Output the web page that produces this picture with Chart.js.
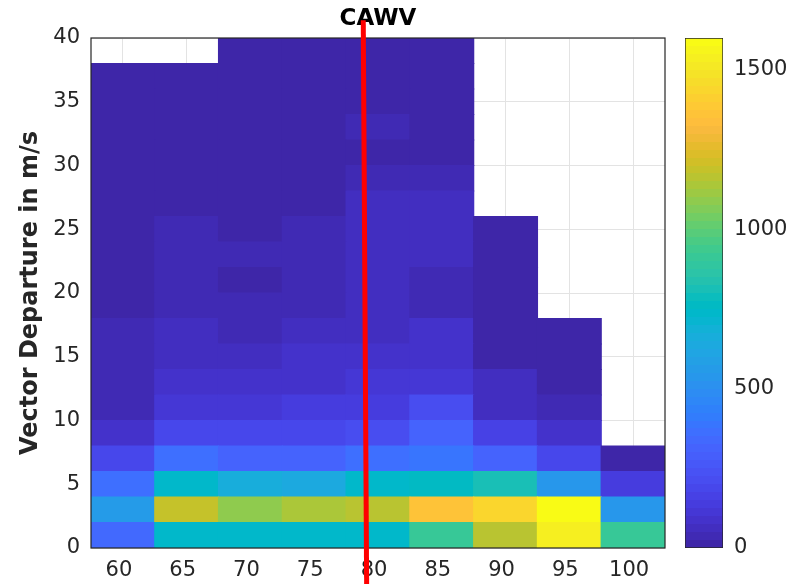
<!DOCTYPE html>
<html>
<head>
<title>CAWV</title>
<script src="https://cdn.jsdelivr.net/npm/chart.js"></script>
<style>
  body { margin: 0; background: #fff; }
  #wrap { position: relative; width: 795px; height: 584px; }
  #heat { position: absolute; left: 0; top: 0; }
  #cbar { position: absolute; left: 670px; top: 0; }
</style>
</head>
<body>
<div id="wrap">
  <canvas id="heat" width="795" height="584"></canvas>
  <canvas id="cbar" width="125" height="584"></canvas>
</div>
<script>
// speed bins (x) and vector departure bins (y, 2 m/s each)
const speeds = ['60', '65', '70', '75', '80', '85', '90', '95', '100'];
const depEdges = [0, 2, 4, 6, 8, 10, 12, 14, 16, 18, 20, 22, 24, 26, 28, 30, 32, 34, 36, 38, 40];
const yTicks = [0, 5, 10, 15, 20, 25, 30, 35, 40];
const cbarTicks = [0, 500, 1000, 1500];
const cbarMax = 1600;

// counts per speed column, bottom row (0-2 m/s) first; null = no data
const c60  = [337, 565, 355, 185, 95, 37, 37, 37, 37, 12, 12, 12, 12, 12, 12, 12, 12, 12, 12, null];
const c65  = [740, 1190, 725, 350, 190, 115, 90, 65, 65, 37, 37, 37, 37, 12, 12, 12, 12, 12, 12, null];
const c70  = [740, 1085, 665, 310, 190, 115, 90, 65, 37, 37, 12, 37, 12, 12, 12, 12, 12, 12, 12, 12];
const c75  = [745, 1140, 640, 305, 190, 125, 90, 90, 62, 37, 37, 37, 37, 12, 12, 12, 12, 12, 12, 12];
const c80  = [745, 1165, 725, 350, 215, 145, 120, 87, 62, 55, 55, 55, 55, 50, 30, 12, 37, 12, 12, 12];
const c85  = [915, 1365, 765, 385, 305, 200, 120, 87, 87, 45, 37, 55, 55, 55, 30, 12, 12, 12, 12, 12];
const c90  = [1170, 1440, 815, 315, 150, 62, 57, 12, 12, 12, 12, 12, 12, null, null, null, null, null, null, null];
const c95  = [1540, 1595, 540, 185, 85, 40, 15, 12, 12, null, null, null, null, null, null, null, null, null, null, null];
const c100 = [915, 540, 135, 12, null, null, null, null, null, null, null, null, null, null, null, null, null, null, null, null];
const counts = [c60, c65, c70, c75, c80, c85, c90, c95, c100];

// red marker line
const markX = [78.7, 79.0];
const markY = [41.4, -3];

const parula = ['#3e26a8','#402ab4','#422ec0','#4432cb','#4537d5','#463cde','#4741e5','#4747eb',
  '#484df0','#4852f4','#4758f8','#465efb','#4563fd','#4269fe','#3e6fff','#3875fe','#327cfc','#2f81fa',
  '#2e87f7','#2d8cf3','#2b91ef','#2797eb','#259be8','#23a0e5','#20a5e3','#1ca9df','#18addb','#12b1d6',
  '#08b5d0','#01b8ca','#02bac3','#0bbdbd','#19bfb6','#24c1ae','#2cc4a7','#31c69f','#37c897','#3fca8e',
  '#4acb84','#57cc7a','#64cd6f','#72cd64','#81cc59','#8fcb4e','#9dc943','#abc739','#b9c431','#c5c22a',
  '#d1bf27','#dcbd29','#e6bb2d','#f0ba36','#f8ba3d','#febe3c','#fec338','#fec934','#fccf30','#fad62d',
  '#f7dc2a','#f5e327','#f5e924','#f6ef20','#f7f51b','#f9fb15'];

function colorFor(v) {
  const i = Math.max(0, Math.min(63, Math.floor(v / cbarMax * 64)));
  return parula[i];
}

const FONT = 'DejaVu Sans';
const TXT = '#262626';

const datasets = [];
for (let r = 0; r < depEdges.length - 1; r++) {
  datasets.push({
    type: 'bar',
    xAxisID: 'x',
    yAxisID: 'y',
    data: counts.map(col => col[r] == null ? null : [depEdges[r], depEdges[r + 1]]),
    backgroundColor: counts.map(col => col[r] == null ? 'rgba(0,0,0,0)' : colorFor(col[r])),
    borderWidth: 0,
    inflateAmount: 0.6,
    barPercentage: 1,
    categoryPercentage: 1,
    grouped: false,
    order: 1
  });
}
datasets.push({
  type: 'line',
  xAxisID: 'xr',
  yAxisID: 'y',
  data: markX.map((x, i) => ({ x: x, y: markY[i] })),
  borderColor: '#ff0000',
  borderWidth: 5,
  pointRadius: 0,
  tension: 0,
  clip: false,
  order: 0
});

// axes box, drawn just before the red line
const boxPlugin = {
  id: 'box',
  beforeDatasetDraw(chart, args) {
    if (args.meta.type !== 'line') return;
    const a = chart.chartArea, ctx = chart.ctx;
    ctx.save();
    ctx.strokeStyle = TXT;
    ctx.lineWidth = 1.2;
    ctx.strokeRect(a.left, a.top, a.right - a.left, a.bottom - a.top);
    ctx.restore();
  }
};

new Chart(document.getElementById('heat'), {
  type: 'bar',
  data: { labels: speeds, datasets: datasets },
  options: {
    responsive: false,
    animation: false,
    layout: { padding: { left: 0, right: 130, top: 0, bottom: 0 } },
    plugins: {
      legend: { display: false },
      tooltip: { enabled: false },
      title: {
        display: true, text: 'CAWV', fullSize: false, color: '#000',
        font: { family: FONT, size: 23, weight: 'bold', lineHeight: 1 },
        padding: { top: 8, bottom: 7 }
      }
    },
    scales: {
      x: {
        type: 'category',
        offset: true,
        grid: { offset: false, color: '#e3e3e3', drawTicks: false },
        border: { display: false },
        ticks: { color: TXT, font: { family: FONT, size: 21 }, padding: 10, labelOffset: -4, maxRotation: 0, autoSkip: false },
        afterFit: s => { s.height = 36; }
      },
      xr: { type: 'linear', display: false, min: 57.5, max: 102.5 },
      y: {
        min: 0, max: 40,
        grid: { color: '#e3e3e3', drawTicks: false },
        border: { display: false },
        ticks: { color: TXT, font: { family: FONT, size: 21 }, padding: 11 },
        afterBuildTicks: s => { s.ticks = yTicks.map(v => ({ value: v })); },
        title: {
          display: true, text: 'Vector Departure in m/s', color: TXT,
          font: { family: FONT, size: 24, weight: 'bold' },
          padding: { top: 16, bottom: 0 }
        },
        afterFit: s => { s.width = 91; }
      }
    }
  },
  plugins: [boxPlugin]
});

// colour bar
new Chart(document.getElementById('cbar'), {
  type: 'bar',
  data: {
    labels: [''],
    datasets: [{
      data: [[0, cbarMax]],
      backgroundColor: ctx => {
        const ys = ctx.chart.scales.y;
        if (!ys || !ctx.chart.chartArea) return parula[0];
        const p0 = ys.getPixelForValue(0), p1 = ys.getPixelForValue(cbarMax);
        if (!isFinite(p0) || !isFinite(p1) || p0 === p1) return parula[0];
        const g = ctx.chart.ctx.createLinearGradient(0, p0, 0, p1);
        parula.forEach((c, i) => { g.addColorStop(i / 64, c); g.addColorStop((i + 1) / 64, c); });
        return g;
      },
      borderColor: TXT,
      borderWidth: 1,
      borderSkipped: false,
      barPercentage: 1,
      categoryPercentage: 1
    }]
  },
  options: {
    responsive: false,
    animation: false,
    layout: { padding: { left: 15, right: 0, top: 38, bottom: 36 } },
    plugins: { legend: { display: false }, tooltip: { enabled: false } },
    scales: {
      x: { display: false },
      y: {
        position: 'right',
        min: 0, max: cbarMax,
        grid: { display: false, drawTicks: false },
        border: { display: false },
        ticks: { color: TXT, font: { family: FONT, size: 21 }, padding: 11, callback: v => String(v) },
        afterBuildTicks: s => { s.ticks = cbarTicks.map(v => ({ value: v })); },
        afterFit: s => { s.width = 72; }
      }
    }
  }
});
</script>
</body>
</html>
